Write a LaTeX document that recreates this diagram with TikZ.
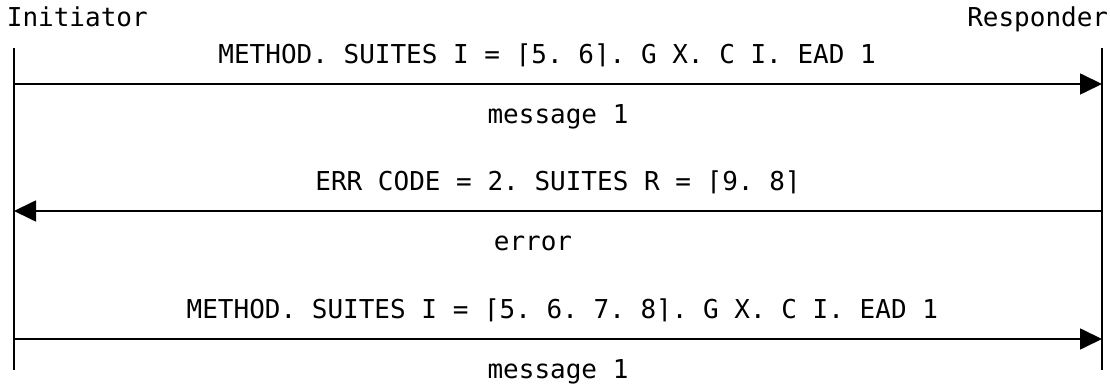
\documentclass[tikz,border=0pt]{standalone}
\usepackage{fontspec}
\setmonofont{DejaVu Sans Mono}
\usetikzlibrary{arrows.meta}

\begin{document}
\begin{tikzpicture}[x=0.5pt, y=-0.5pt, line width=0.85pt,
  txt/.style={font=\ttfamily\fontsize{13}{15}\selectfont, inner sep=0pt},
  msg/.style={-{Triangle[length=11pt, width=10.5pt]}},
  over/.style={txt, anchor=base, yshift=10pt},
  under/.style={txt, anchor=base, yshift=-20pt}]
  \useasboundingbox (0,0) rectangle (1110,384);
  % parties
  \node[txt, anchor=base west] (init) at (6,27) {Initiator};
  \node[txt, anchor=base east] (resp) at (1109,27) {Responder};
  \coordinate (itop) at (14,48);
  \coordinate (ibot) at (14,370);
  \coordinate (rtop) at (1102,48);
  \coordinate (rbot) at (1102,370);
  \draw (itop) -- (ibot);
  \draw (rtop) -- (rbot);
  % message 1
  \coordinate (i1) at (14,84);
  \coordinate (r1) at (1102,84);
  \draw[msg] (i1) -- (r1)
    node[over, pos=0.49] (m1) {METHOD. SUITES I = ⌈5. 6⌉. G X. C I. EAD 1}
    node[under, midway] (m1name) {message 1};
  % error
  \coordinate (i2) at (14,211);
  \coordinate (r2) at (1102,211);
  \draw[msg] (r2) -- (i2)
    node[over, midway] (e1) {ERR CODE = 2. SUITES R = ⌈9. 8⌉}
    node[under, pos=0.523] (e1name) {error};
  % message 1 again
  \coordinate (i3) at (14,339);
  \coordinate (r3) at (1102,339);
  \draw[msg] (i3) -- (r3)
    node[over, pos=0.504] (m2) {METHOD. SUITES I = ⌈5. 6. 7. 8⌉. G X. C I. EAD 1}
    node[under, midway] (m2name) {message 1};
\end{tikzpicture}
\end{document}
